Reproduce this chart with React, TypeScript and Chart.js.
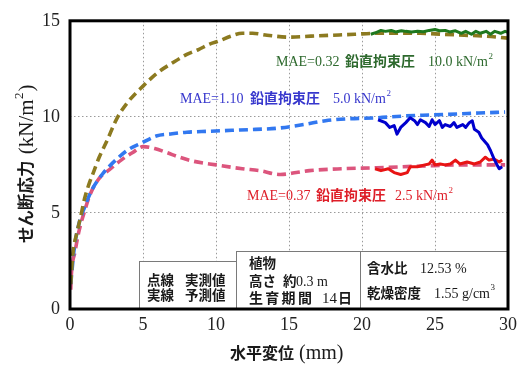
import React, { useEffect, useRef } from "react";
import { Chart, registerables } from "chart.js";
Chart.register(...registerables);

const xTicks = [0, 5, 10, 15, 20, 25, 30];
const yTicks = [0, 5, 10, 15];

// measured (dashed) curves
const meas10X = [0.05, 0.2, 0.45, 0.7, 1.0, 1.3, 1.6, 2.0, 2.5, 3.2, 4.0, 5.0, 6.0, 7.0, 8.0, 8.8, 9.6, 10.2, 11.0, 11.8, 12.5, 13.5, 15.0, 16.5, 18.0, 19.5, 21.0, 22.5, 24.0, 25.5, 27.0, 28.5, 30.0];
const meas10Y = [1.3, 2.9, 3.9, 4.7, 5.75, 6.5, 7.1, 7.9, 8.7, 9.9, 10.8, 11.6, 12.3, 12.8, 13.25, 13.5, 13.8, 13.95, 14.2, 14.35, 14.35, 14.25, 14.15, 14.2, 14.25, 14.3, 14.35, 14.35, 14.35, 14.3, 14.25, 14.2, 14.1];

const meas5X = [0.05, 0.3, 0.6, 1.0, 1.5, 2.2, 3.2, 4.0, 4.8, 5.9, 7.0, 8.0, 9.5, 11.1, 12.7, 14.1, 16.0, 17.5, 19.0, 21.0, 23.0, 24.8, 26.5, 28.0, 29.8];
const meas5Y = [1.3, 3.2, 4.4, 5.3, 6.2, 7.0, 7.8, 8.3, 8.6, 9.0, 9.12, 9.2, 9.25, 9.3, 9.35, 9.4, 9.6, 9.8, 9.9, 9.95, 10.05, 10.1, 10.15, 10.2, 10.25];

const meas25X = [0.05, 0.1, 0.35, 0.6, 1.0, 1.4, 2.0, 2.7, 3.5, 4.3, 5.0, 5.8, 6.6, 7.5, 8.4, 10.0, 11.8, 13.0, 14.4, 15.5, 16.4, 18.6, 21.0, 24.4, 27.0, 29.8];
const meas25Y = [1.0, 1.85, 3.0, 4.0, 5.1, 6.0, 6.8, 7.25, 7.75, 8.15, 8.45, 8.35, 8.15, 7.9, 7.7, 7.5, 7.3, 7.2, 7.0, 7.1, 7.2, 7.3, 7.35, 7.45, 7.5, 7.5];

// predicted (solid) curves
const pred10X = [20.6, 21.0, 21.3, 21.6, 22.0, 22.3, 22.7, 23.0, 23.4, 23.8, 24.2, 24.6, 25.0, 25.3, 25.7, 26.0, 26.4, 26.8, 27.1, 27.5, 27.8, 28.1, 28.5, 28.8, 29.1, 29.5, 29.8, 30.0];
const pred10Y = [14.3, 14.4, 14.5, 14.45, 14.5, 14.42, 14.48, 14.45, 14.42, 14.45, 14.43, 14.5, 14.55, 14.48, 14.5, 14.42, 14.48, 14.35, 14.45, 14.3, 14.45, 14.35, 14.45, 14.3, 14.45, 14.35, 14.45, 14.4];

const pred5X = [21.1, 21.6, 21.9, 22.2, 22.4, 22.65, 23.0, 23.3, 23.6, 23.8, 24.0, 24.35, 24.6, 24.8, 25.0, 25.3, 25.5, 25.7, 26.05, 26.3, 26.5, 26.9, 27.1, 27.35, 27.55, 27.7, 28.0, 28.2, 28.6, 28.8, 29.05, 29.25, 29.4, 29.6];
const pred5Y = [9.85, 9.7, 9.45, 9.55, 9.1, 9.45, 9.7, 9.95, 9.8, 9.6, 9.85, 9.7, 9.5, 9.85, 9.6, 9.8, 9.45, 9.6, 9.5, 9.7, 9.45, 9.6, 9.45, 9.7, 9.8, 9.35, 9.2, 8.9, 8.55, 8.25, 7.8, 7.5, 7.3, 7.4];

const pred25X = [20.9, 21.3, 21.8, 22.2, 22.65, 23.1, 23.3, 23.8, 24.3, 24.6, 24.8, 25.0, 25.35, 25.7, 26.05, 26.4, 26.7, 27.2, 27.7, 28.1, 28.45, 28.7, 29.05, 29.4, 29.6];
const pred25Y = [7.3, 7.2, 7.3, 7.1, 7.0, 7.1, 7.4, 7.4, 7.5, 7.55, 7.75, 7.5, 7.55, 7.5, 7.55, 7.75, 7.55, 7.65, 7.55, 7.65, 7.9, 7.75, 7.8, 7.65, 7.75];

const pts = (xs: number[], ys: number[]) => xs.map((x, i) => ({ x, y: ys[i] }));

const SERIF = "'Liberation Serif', 'Times New Roman', serif";
const CJK = "'Noto Sans CJK JP', sans-serif";

function txt(ctx: CanvasRenderingContext2D, s: string, x: number, y: number, font: string, color: string) {
  ctx.font = font;
  ctx.fillStyle = color;
  ctx.fillText(s, x, y);
  return x + ctx.measureText(s).width;
}

function spaced(ctx: CanvasRenderingContext2D, s: string, x: number, y: number, pitch: number, font: string, color: string) {
  const chars = Array.from(s);
  chars.forEach((c, i) => txt(ctx, c, x + i * pitch, y, font, color));
}

const overlay = {
  id: "overlay",
  afterDatasetsDraw(chart: any) {
    const ctx: CanvasRenderingContext2D = chart.ctx;
    const a = chart.chartArea;
    ctx.save();
    ctx.textBaseline = "alphabetic";
    ctx.textAlign = "left";

    // curve labels
    const sf = `14px ${SERIF}`;
    const cf = `bold 14px ${CJK}`;
    const supf = `9px ${SERIF}`;
    let e: number;
    const g = "rgb(45,105,45)";
    txt(ctx, "MAE=0.32", 276, 66, sf, g);
    txt(ctx, "鉛直拘束圧", 345, 66, cf, g);
    e = txt(ctx, "10.0 kN/m", 428, 66, sf, g);
    txt(ctx, "2", e + 0.5, 59, supf, g);

    const b = "rgb(55,55,205)";
    txt(ctx, "MAE=1.10", 180, 103, sf, b);
    txt(ctx, "鉛直拘束圧", 250, 103, cf, b);
    e = txt(ctx, "5.0 kN/m", 333, 103, sf, b);
    txt(ctx, "2", e + 0.5, 96, supf, b);

    const r = "rgb(222,30,40)";
    txt(ctx, "MAE=0.37", 247, 200, sf, r);
    txt(ctx, "鉛直拘束圧", 316, 200, cf, r);
    e = txt(ctx, "2.5 kN/m", 395, 200, sf, r);
    txt(ctx, "2", e + 0.5, 193, supf, r);

    // info boxes
    ctx.fillStyle = "#ffffff";
    ctx.strokeStyle = "#7a7a7a";
    ctx.lineWidth = 1;
    const boxes = [
      [139.5, 261.5, 97, 48],
      [236.5, 251.5, 124, 58],
      [360.5, 251.5, 148, 58],
    ];
    for (const [x, y, w, h] of boxes) {
      ctx.fillRect(x, y, w, h);
      ctx.strokeRect(x, y, w, h);
    }
    const k = "#1a1a1a";
    const bf = `bold 13.5px ${CJK}`;
    const bs = `14px ${SERIF}`;
    txt(ctx, "点線", 147, 285, bf, k);
    txt(ctx, "実測値", 185, 285, bf, k);
    txt(ctx, "実線", 147, 300, bf, k);
    txt(ctx, "予測値", 185, 300, bf, k);

    txt(ctx, "植物", 249, 268, bf, k);
    txt(ctx, "高さ", 249, 286, bf, k);
    txt(ctx, "約", 283, 286, bf, k);
    txt(ctx, "0.3 m", 296, 286, bs, k);
    spaced(ctx, "生育期間", 249, 303, 16.3, `bold 14px ${CJK}`, k);
    e = txt(ctx, "14", 322, 303, `15px ${SERIF}`, k);
    txt(ctx, "日", e + 1, 303, `bold 14px ${CJK}`, k);

    txt(ctx, "含水比", 367, 273, bf, k);
    txt(ctx, "12.53 %", 420, 273, bs, k);
    txt(ctx, "乾燥密度", 367, 298, bf, k);
    e = txt(ctx, "1.55 g/cm", 434, 298, bs, k);
    txt(ctx, "3", e + 0.5, 290, supf, k);

    // frame
    ctx.strokeStyle = "#000";
    ctx.lineWidth = 3;
    ctx.strokeRect(a.left, a.top, a.right - a.left, a.bottom - a.top);

    // axis titles
    ctx.textBaseline = "middle";
    e = txt(ctx, "水平変位", 230, 353, `bold 16px ${CJK}`, k);
    txt(ctx, " (mm)", e, 354, `20px ${SERIF}`, k);

    ctx.translate(26, 243);
    ctx.rotate(-Math.PI / 2);
    e = txt(ctx, "せん断応力", 0, 0, `bold 16.5px ${CJK}`, k);
    e = txt(ctx, " (kN/m", e + 1, 1, `21px ${SERIF}`, k);
    e = txt(ctx, "2", e + 0.5, -6, `13px ${SERIF}`, k);
    txt(ctx, ")", e + 1, 1, `21px ${SERIF}`, k);
    ctx.restore();
  },
};

export default function App() {
  const ref = useRef<HTMLCanvasElement>(null);
  useEffect(() => {
    if (!ref.current) return;
    const dashed = (data: any, color: string) => ({
      data,
      borderColor: color,
      borderWidth: 3.6,
      borderDash: [9, 5],
      borderCapStyle: "butt" as const,
      tension: 0.4,
      cubicInterpolationMode: "monotone" as const,
      pointRadius: 0,
      fill: false,
    });
    const solid = (data: any, color: string) => ({
      data,
      borderColor: color,
      borderWidth: 3,
      tension: 0,
      pointRadius: 0,
      fill: false,
      borderJoinStyle: "round" as const,
    });
    const tickFont = { family: SERIF, size: 18 };
    const chart = new Chart(ref.current, {
      type: "line",
      data: {
        datasets: [
          solid(pts(pred10X, pred10Y), "rgb(30,120,30)"),
          solid(pts(pred5X, pred5Y), "rgb(0,0,205)"),
          solid(pts(pred25X, pred25Y), "rgb(232,20,20)"),
          dashed(pts(meas10X, meas10Y), "rgb(140,122,32)"),
          dashed(pts(meas5X, meas5Y), "rgb(50,120,240)"),
          dashed(pts(meas25X, meas25Y), "rgb(220,85,125)"),
        ] as any,
      },
      options: {
        responsive: false,
        animation: false,
        devicePixelRatio: 1,
        layout: { padding: { left: 0, right: 14, top: 16, bottom: 0 } },
        plugins: {
          legend: { display: false },
          tooltip: { enabled: false },
        },
        scales: {
          x: {
            type: "linear",
            min: 0,
            max: 30,
            afterFit: (s: any) => {
              s.height = 56;
            },
            afterBuildTicks: (s: any) => {
              s.ticks = xTicks.map((v) => ({ value: v }));
            },
            ticks: { font: tickFont, color: "#222", padding: 5, maxRotation: 0, autoSkip: false },
            grid: { color: "#9a9a9a", lineWidth: 1, drawTicks: false },
            border: { display: false, dash: [1.5, 2.5] },
          },
          y: {
            type: "linear",
            min: 0,
            max: 15,
            afterFit: (s: any) => {
              s.width = 70;
            },
            afterBuildTicks: (s: any) => {
              s.ticks = yTicks.map((v) => ({ value: v }));
            },
            ticks: { font: tickFont, color: "#222", padding: 10, autoSkip: false },
            grid: { color: "#9a9a9a", lineWidth: 1, drawTicks: false },
            border: { display: false, dash: [1.5, 2.5] },
          },
        },
      },
      plugins: [overlay],
    } as any);
    return () => chart.destroy();
  }, []);
  return (
    <div style={{ position: "fixed", left: 0, top: 0, width: 522, height: 365, background: "#fff" }}>
      <canvas ref={ref} width={522} height={365} style={{ display: "block" }} />
    </div>
  );
}
